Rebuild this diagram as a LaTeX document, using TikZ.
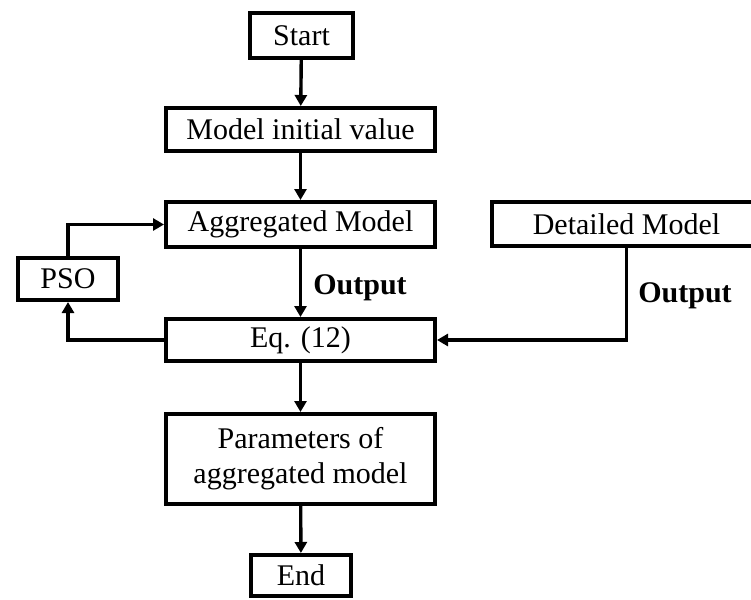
\documentclass[tikz,border=0pt]{standalone}
\usepackage{fontspec}
\setmainfont{Liberation Serif}
\usetikzlibrary{arrows.meta}
\begin{document}
\begin{tikzpicture}[x=1pt,y=-1pt,
  box/.style={draw,line width=4.3pt,rectangle,inner sep=0pt,align=center,
    font=\fontsize{30}{35}\selectfont},
  flow/.style={line width=3.4pt,-{Triangle[length=11pt,width=12pt]}},
  lbl/.style={font=\fontsize{30}{35}\selectfont\bfseries}]
\useasboundingbox (0,0) rectangle (751,599);
% main column
\node[box,minimum width=102.7pt,minimum height=44.7pt] (start) at (301.5,35.5) {Start};
\node[box,minimum width=268.7pt,minimum height=42.7pt] (init) at (300.5,129.5) {Model initial value};
\node[box,minimum width=268.7pt,minimum height=44.7pt] (agg) at (300.5,224.5) {Aggregated Model};
\node[box,minimum width=268.7pt,minimum height=41.7pt] (eq) at (300.5,340) {Eq. (12)};
\node[box,minimum width=268.7pt,minimum height=89.7pt] (par) at (300.5,459) {Parameters of\\aggregated model};
\node[box,minimum width=99.7pt,minimum height=40.7pt] (end) at (301,575.5) {End};
% side boxes
\node[box,minimum width=268.7pt,minimum height=43.7pt] (det) at (626.5,224) {Detailed Model};
\node[box,minimum width=99.7pt,minimum height=41.7pt] (pso) at (68,279) {PSO};
% labels
\node[lbl] (out1) at (360,288) {Output};
\node[lbl] (out2) at (685,296) {Output};
% connectors
\draw[flow] (start) -- (init);
\draw[flow] (init) -- (agg);
\draw[flow] (agg) -- (eq);
\draw[flow] (eq) -- (par);
\draw[flow] (par) -- (end);
\draw[flow] (pso.north) |- (agg.west);
\draw[flow] (eq.west) -| (pso.south);
\draw[flow] (det.south) |- (eq.east);
\end{tikzpicture}
\end{document}
